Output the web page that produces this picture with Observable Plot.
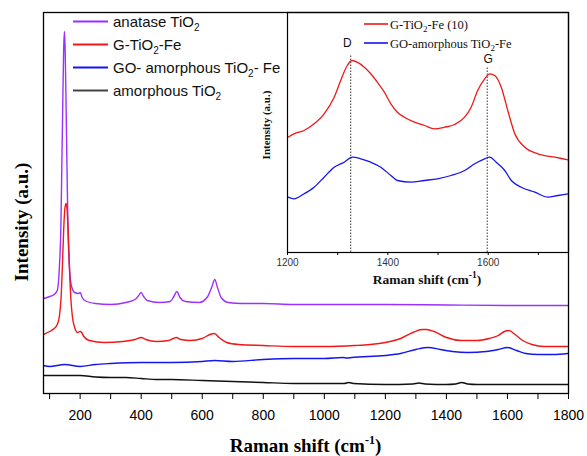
<!DOCTYPE html>
<html><head><meta charset="utf-8">
<script src="https://cdn.jsdelivr.net/npm/d3@7"></script>
<script src="https://cdn.jsdelivr.net/npm/@observablehq/plot@0.6"></script>
<style>
body{margin:0;background:#fff}
#wrap{position:relative;width:587px;height:456px;overflow:hidden;background:#fff}
#wrap svg{position:absolute;left:0;top:0}
</style></head><body><div id="wrap"></div>
<script>
// ---------- main plot data (Raman shift cm-1, intensity a.u.) ----------
const seriesNames = ["anatase TiO2", "G-TiO2-Fe", "GO- amorphous TiO2- Fe", "amorphous TiO2"];
const seriesColors = ["#9b30ff", "#f01818", "#1515f0", "#111111"];

const anataseX = [80,100,115,125,132,137,140,143,146,148.5,151,154,157,160,165,172,182,195,200,207,215,250,300,350,380,392,400,408,420,460,495,507,517,527,545,590,618,632,641,650,662,685,730,800,900,1000,1200,1400,1600,1800];
const anataseY = [95,97,99,103,126,168,226,288,343,362,343,288,226,168,126,107,101,100,101,96,93,90,89,91,94,98,101,97,93,91,92,97,102,96,92,91,97,107,114,106,96,91,90,90,89,89,89,88.5,88,88];

const gTiFeX = [80,100,115,125,132,138,142,146,150,154,158,162,166,170,175,182,192,200,205,212,230,280,340,380,400,415,450,490,505,515,530,560,600,625,640,655,680,720,800,900,1000,1100,1150,1200,1250,1290,1320,1335,1360,1400,1450,1500,1540,1570,1590,1605,1625,1650,1680,1720,1800];
const gTiFeY = [59,62,65,69,77,98,128,163,185,190,181,153,118,93,76,66,61,62,61,57,53,51,52,54,56,54,52,53,55,56,54,53,55,59,60,56,51,49,48,47,47,48,49,51,55,61,64,64,62,56,53,53,55,58,62,63,59,53,49,47,47];

const goAmX = [80,100,150,200,250,300,400,500,600,640,700,800,900,1000,1060,1075,1090,1200,1250,1300,1340,1380,1420,1470,1530,1570,1600,1630,1660,1700,1750,1800];
const goAmY = [28,27,29,27,29,30,31,31,32,33,32,34,35,35,36,35.5,36,38,40,44,46,44,42,41,42,44,46,43,40,39,39,40];

const amorphX = [80,150,200,250,300,350,400,450,500,600,700,800,900,1000,1065,1080,1095,1200,1290,1310,1330,1400,1430,1450,1470,1500,1600,1800];
const amorphY = [18,18,18,16.5,16,16,15,14,14,13,12,11,10,10,10,11,10,9,9.5,10.5,9.5,9,9.5,11,9.5,9,9,9];

const mainMajorTicks = [200,400,600,800,1000,1200,1400,1600,1800];
const mainMinorTicks = [100,300,500,700,900,1100,1300,1500,1700];

// ---------- inset data ----------
const insetNames = ["G-TiO2-Fe (10)", "GO-amorphous TiO2-Fe"];
const insetColors = ["#f01818", "#1515f0"];
const insetRedX = [1201,1213,1233,1253,1273,1293,1306,1319,1329,1339,1353,1366,1379,1393,1406,1419,1433,1453,1473,1493,1513,1533,1553,1566,1579,1593,1603,1613,1626,1639,1653,1673,1699,1733,1759];
const insetRedY = [115.3,118.7,122,128.7,138.7,155.3,172,187,192,190.3,185.3,178.7,170.3,160.3,148.7,140.3,135.3,130.3,127,123.7,125.3,128,135.3,145.3,162,173.7,178.7,177,165.3,142,118.7,105.3,98.7,95.3,92.7];
const insetBlueX = [1201,1213,1233,1253,1273,1293,1313,1329,1346,1366,1386,1406,1419,1446,1473,1499,1526,1553,1573,1593,1603,1616,1633,1646,1666,1693,1719,1739,1759];
const insetBlueY = [55.3,53.7,58.7,65.3,75.3,85.3,90.3,95.3,93.7,90.3,85.3,77,72,70.3,72,73.7,77,82,88.7,93.7,95.3,90.3,82,72,65.3,60.3,55.3,57,58.7];
const bandNames = ["D", "G"];
const bandPos = [1326, 1598];
const bandLineTop = [197, 186];
const bandLabelX = [1319, 1600];
const bandLabelY = [209, 193];
const insetMajorTicks = [1200,1400,1600];
const insetMinorTicks = [1300,1500,1700];

const toRows = (xs, ys, name) => xs.map((x, i) => ({x, y: ys[i], name}));
const mainRows = [
  ...toRows(anataseX, anataseY, seriesNames[0]),
  ...toRows(gTiFeX, gTiFeY, seriesNames[1]),
  ...toRows(goAmX, goAmY, seriesNames[2]),
  ...toRows(amorphX, amorphY, seriesNames[3])
];
const insetRows = [
  ...toRows(insetRedX, insetRedY, insetNames[0]),
  ...toRows(insetBlueX, insetBlueY, insetNames[1])
];
const bands = bandNames.map((n, i) => ({n, x: bandPos[i], top: bandLineTop[i], lx: bandLabelX[i], ly: bandLabelY[i]}));
const plain = d => String(d);

const wrap = document.getElementById("wrap");

const main = Plot.plot({
  width: 587, height: 456,
  marginLeft: 43, marginRight: 19, marginTop: 12, marginBottom: 63,
  x: {domain: [80, 1800], label: null},
  y: {domain: [0, 381], axis: null},
  color: {domain: seriesNames, range: seriesColors},
  style: {background: "transparent", fontFamily: "'Liberation Sans', Arial, sans-serif", fontSize: "14px", color: "#000"},
  marks: [
    Plot.line(mainRows, {x: "x", y: "y", z: "name", stroke: "name", strokeWidth: 1.4, curve: "monotone-x", clip: true}),
    Plot.axisX({ticks: mainMinorTicks, tickSize: 6, tickFormat: () => "", label: null}),
    Plot.axisX({ticks: mainMajorTicks, tickSize: 6, tickPadding: 11, tickFormat: plain, label: null, fontSize: 14}),
    Plot.frame({stroke: "#000", strokeWidth: 1.3})
  ]
});
wrap.appendChild(main);

const inset = Plot.plot({
  width: 327, height: 290,
  marginLeft: 27, marginRight: 19, marginTop: 12, marginBottom: 38,
  x: {domain: [1200, 1760], label: null},
  y: {domain: [0, 240], axis: null},
  color: {domain: insetNames, range: insetColors},
  style: {background: "transparent", fontFamily: "'Liberation Sans', Arial, sans-serif", fontSize: "10px", color: "#333"},
  marks: [
    Plot.ruleX(bands, {x: "x", y1: 0, y2: "top", stroke: "#333", strokeWidth: 1, strokeDasharray: "1.5,1.5"}),
    Plot.line(insetRows, {x: "x", y: "y", z: "name", stroke: "name", strokeWidth: 1.3, curve: "monotone-x", clip: true}),
    Plot.text(bands, {x: "lx", y: "ly", text: "n", fontSize: 12, fill: "#111", fontFamily: "'Liberation Sans', Arial, sans-serif"}),
    Plot.axisX({ticks: insetMinorTicks, tickSize: 3, tickFormat: () => "", label: null, stroke: "#000"}),
    Plot.axisX({ticks: insetMajorTicks, tickSize: 3, tickPadding: 3, tickFormat: plain, label: null, stroke: "#000"}),
    Plot.frame({stroke: "#000", strokeWidth: 1.2})
  ]
});
inset.style.left = "260px";
inset.style.top = "0px";
wrap.appendChild(inset);

// ---------- overlay: legends and axis titles ----------
const NS = "http://www.w3.org/2000/svg";
const ov = document.createElementNS(NS, "svg");
ov.setAttribute("width", 587); ov.setAttribute("height", 456);
ov.style.pointerEvents = "none";
wrap.appendChild(ov);

function el(tag, attrs, parent) {
  const e = document.createElementNS(NS, tag);
  for (const k in attrs) e.setAttribute(k, attrs[k]);
  (parent || ov).appendChild(e);
  return e;
}
function richText(t, label, subSize, shift) {
  const parts = label.split(/(TiO2|\^-1)/);
  let offset = 0;
  for (const p of parts) {
    if (!p) continue;
    if (p === "TiO2") {
      const a = el("tspan", {dy: -offset}, t); a.textContent = "TiO"; offset = 0;
      const b = el("tspan", {dy: shift, "font-size": subSize}, t); b.textContent = "2"; offset = shift;
    } else if (p === "^-1") {
      const b = el("tspan", {dy: -shift * 2 - offset, "font-size": subSize}, t); b.textContent = "-1"; offset = -shift * 2;
    } else {
      const a = el("tspan", {dy: -offset}, t); a.textContent = p; offset = 0;
    }
  }
}

// main legend
seriesNames.forEach((name, i) => {
  const y = 21.5 + 23 * i;
  el("line", {x1: 73, x2: 108, y1: y, y2: y, stroke: i === 3 ? "#444" : seriesColors[i], "stroke-width": 2});
  const t = el("text", {x: 113, y: y + 5, "font-family": "'Liberation Sans', Arial, sans-serif", "font-size": 15, fill: "#111"});
  richText(t, name, 10, 4);
});

// inset legend
insetNames.forEach((name, i) => {
  const y = 24 + 19 * i;
  el("line", {x1: 364, x2: 388, y1: y, y2: y, stroke: insetColors[i], "stroke-width": 1.6});
  const t = el("text", {x: 390, y: y + 4.5, "font-family": "'Liberation Serif', 'Times New Roman', serif", "font-size": 12.5, fill: "#111"});
  richText(t, name, 9, 3);
});

// main axis titles
const xt = el("text", {x: 305.5, y: 452, "text-anchor": "middle", "font-family": "'Liberation Serif', 'Times New Roman', serif", "font-size": 19, "font-weight": "bold", fill: "#000"});
richText(xt, "Raman shift (cm^-1)", 12, 4);
const yt = el("text", {transform: "translate(28,222) rotate(-90)", "text-anchor": "middle", "font-family": "'Liberation Serif', 'Times New Roman', serif", "font-size": 19, "font-weight": "bold", fill: "#000"});
yt.textContent = "Intensity (a.u.)";

// inset axis titles
const ixt = el("text", {x: 427, y: 284, "text-anchor": "middle", "font-family": "'Liberation Serif', 'Times New Roman', serif", "font-size": 13.5, "font-weight": "bold", fill: "#111"});
richText(ixt, "Raman shift (cm^-1)", 9.5, 3);
const iyt = el("text", {transform: "translate(270,125) rotate(-90)", "text-anchor": "middle", "font-family": "'Liberation Serif', 'Times New Roman', serif", "font-size": 11, "font-weight": "bold", fill: "#111"});
iyt.textContent = "Intensity (a.u.)";
</script>
</body></html>
